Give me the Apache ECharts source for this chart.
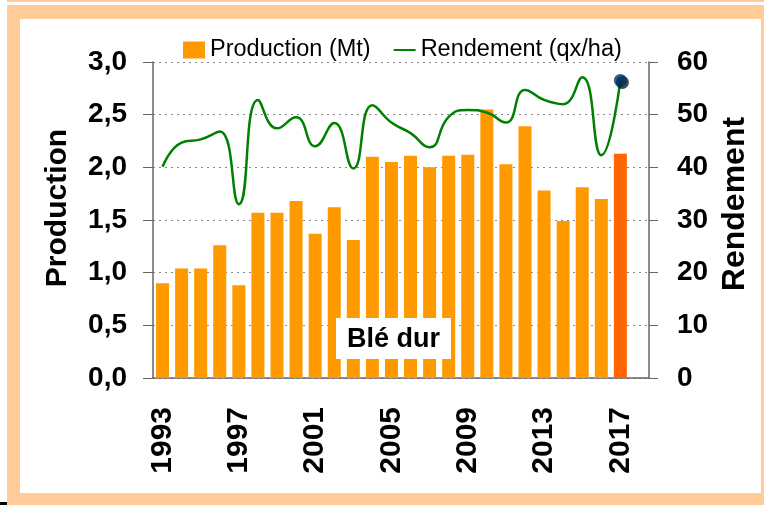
<!DOCTYPE html>
<html>
<head>
<meta charset="utf-8">
<script src="https://cdn.jsdelivr.net/npm/echarts@6/dist/echarts.min.js"></script>
<style>
  html, body { margin: 0; padding: 0; background: #fff; }
  #frame { position: absolute; left: 7px; top: 5px; width: 757px; height: 500px; background: #FFCC99; }
  #topstrip { position: absolute; left: 7px; top: 0; width: 757px; height: 2px; background: #FFCC99; }
  #inner { position: absolute; left: 20px; top: 19px; width: 741px; height: 474px; background: #fff; }
  #mark { position: absolute; left: 0; top: 502px; width: 7px; height: 3px; background: #000; }
  #chart { position: absolute; left: 0; top: 0; width: 764px; height: 505px; }
</style>
</head>
<body>
<div id="topstrip"></div>
<div id="frame"></div>
<div id="inner"></div>
<div id="mark"></div>
<div id="chart"></div>
<script>
// années (2018 = case vide en bout d'axe)
const years = ['1993','1994','1995','1996','1997','1998','1999','2000','2001','2002',
  '2003','2004','2005','2006','2007','2008','2009','2010','2011','2012',
  '2013','2014','2015','2016','2017','2018']
// production (Mt)
const production = [0.90,1.04,1.04,1.26,0.88,1.57,1.57,1.68,1.37,1.62,
  1.31,2.10,2.05,2.11,2.00,2.11,2.12,2.55,2.03,2.39,
  1.78,1.49,1.81,1.70,2.13,null]
// rendement (qx/ha)
const rendement = [40.1,44.7,45.3,46.8,33.0,52.8,47.4,49.5,44.0,48.4,
  39.8,51.8,48.5,46.5,43.8,49.6,50.9,50.4,48.5,54.7,
  52.8,52.0,57.1,42.3,56.5,null]
const lastIdx = 24

const font = 'Liberation Sans, Arial, sans-serif'
const chart = echarts.init(document.getElementById('chart'))

const option = {
  backgroundColor: 'transparent',
  textStyle: { fontFamily: font },
  animation: false,
  legend: {
    left: 178,
    top: 33,
    itemWidth: 22,
    itemHeight: 17,
    itemGap: 22,
    textStyle: { fontSize: 23.5, color: '#000', fontFamily: font },
    data: [
      { name: 'Production (Mt)', icon: 'rect' },
      { name: 'Rendement (qx/ha)', itemStyle: { opacity: 0 } }
    ]
  },
  grid: { left: 153, right: 115, top: 62, bottom: 127 },
  xAxis: {
    type: 'category',
    data: years,
    boundaryGap: true,
    axisLine: { lineStyle: { color: '#666', width: 1.5 } },
    axisTick: { interval: 0, length: 10, lineStyle: { color: '#666' } },
    axisLabel: {
      interval: 3,
      rotate: 90,
      margin: 29,
      fontSize: 30,
      fontWeight: 'bold',
      color: '#000'
    }
  },
  yAxis: [{
    type: 'value',
    min: 0, max: 3, interval: 0.5,
    name: 'Production',
    nameLocation: 'middle',
    nameRotate: 90,
    nameGap: 80,
    nameTextStyle: { fontSize: 30, fontWeight: 'bold', color: '#000', padding: [0, 0, 0, 24] },
    axisLine: { show: true, lineStyle: { color: '#666', width: 1.5 } },
    axisTick: { show: true, length: 10, lineStyle: { color: '#666' } },
    axisLabel: {
      margin: 26, fontSize: 28, fontWeight: 'bold', color: '#000',
      formatter: v => v.toFixed(1).replace('.', ',')
    },
    splitLine: { lineStyle: { color: '#888', type: [2, 4] } }
  }, {
    type: 'value',
    min: 0, max: 60, interval: 10,
    name: 'Rendement',
    nameLocation: 'middle',
    nameRotate: 90,
    nameGap: 65,
    nameTextStyle: { fontSize: 32, fontWeight: 'bold', color: '#000', padding: [0, 0, 0, 32] },
    axisLine: { show: true, lineStyle: { color: '#666', width: 1.5 } },
    axisTick: { show: true, length: 9, lineStyle: { color: '#666' } },
    axisLabel: { margin: 28, fontSize: 28, fontWeight: 'bold', color: '#000' },
    splitLine: { show: false }
  }],
  series: [{
    name: 'Production (Mt)',
    type: 'bar',
    barWidth: 13,
    data: production.map((v, i) => i === lastIdx ? { value: v, itemStyle: { color: '#FF6600' } } : v),
    itemStyle: { color: '#FF9900' },
    z: 2
  }, {
    name: 'Rendement (qx/ha)',
    type: 'line',
    yAxisIndex: 1,
    data: rendement,
    smooth: 0.5,
    symbol: 'none',
    lineStyle: { color: '#008000', width: 2.5 },
    itemStyle: { color: '#008000' },
    z: 3
  }, {
    name: 'Dernier rendement',
    type: 'scatter',
    yAxisIndex: 1,
    data: rendement.map((v, i) => i === lastIdx ? v : null),
    symbolSize: 13,
    itemStyle: {
      color: '#003366',
      shadowColor: 'rgba(0,0,0,0.9)',
      shadowOffsetX: 2,
      shadowOffsetY: 2,
      shadowBlur: 0
    },
    z: 4
  }],
  graphic: [{
    type: 'text',
    left: 336,
    top: 318,
    z: 10,
    style: {
      text: 'Blé dur',
      font: 'bold 27px ' + font,
      fill: '#000',
      backgroundColor: '#fff',
      padding: [8, 11, 6, 11]
    }
  }]
}

chart.setOption(option)
</script>
</body>
</html>
